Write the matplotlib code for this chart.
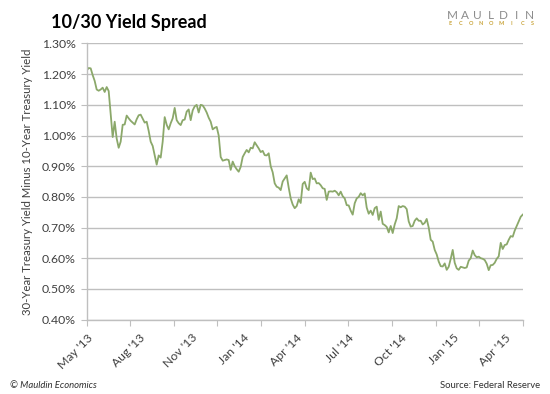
import matplotlib
matplotlib.use("Agg")
import matplotlib.pyplot as plt
import numpy as np

# 30y minus 10y treasury yield (%) at roughly equal steps,
# May 2013 through May 2015 (~500 trading days)
spread = [
    1.212, 1.220, 1.219, 1.197, 1.178, 1.150, 1.146, 1.150, 1.156, 1.142,
    1.158, 1.145, 1.070, 0.995, 1.045, 0.990, 0.960, 0.980, 1.035, 1.036,
    1.065, 1.056, 1.048, 1.042, 1.036, 1.053, 1.066, 1.068, 1.055, 1.042,
    1.045, 1.015, 0.980, 0.966, 0.935, 0.905, 0.935, 0.928, 0.980, 1.060,
    1.035, 1.020, 1.040, 1.056, 1.090, 1.050, 1.040, 1.034, 1.050, 1.052,
    1.078, 1.085, 1.050, 1.082, 1.095, 1.100, 1.075, 1.100, 1.098, 1.088,
    1.075, 1.058, 1.045, 1.020, 1.025, 1.028, 1.000, 0.930, 0.918, 0.920,
    0.922, 0.920, 0.888, 0.915, 0.900, 0.890, 0.882, 0.898, 0.930, 0.942,
    0.953, 0.945, 0.960, 0.958, 0.978, 0.968, 0.958, 0.946, 0.950, 0.936,
    0.935, 0.942, 0.900, 0.880, 0.844, 0.833, 0.830, 0.822, 0.850, 0.860,
    0.870, 0.830, 0.795, 0.775, 0.763, 0.770, 0.792, 0.780, 0.842, 0.849,
    0.828, 0.822, 0.879, 0.858, 0.860, 0.844, 0.845, 0.838, 0.828, 0.826,
    0.790, 0.817, 0.818, 0.817, 0.820, 0.815, 0.805, 0.817, 0.802, 0.795,
    0.773, 0.772, 0.755, 0.742, 0.779, 0.795, 0.800, 0.812, 0.805, 0.811,
    0.765, 0.745, 0.755, 0.741, 0.763, 0.768, 0.725, 0.752, 0.712, 0.708,
    0.702, 0.684, 0.705, 0.682, 0.710, 0.730, 0.770, 0.766, 0.770, 0.768,
    0.760, 0.720, 0.703, 0.705, 0.722, 0.730, 0.722, 0.722, 0.710, 0.715,
    0.728, 0.700, 0.660, 0.654, 0.627, 0.612, 0.589, 0.574, 0.573, 0.583,
    0.562, 0.572, 0.598, 0.627, 0.585, 0.567, 0.562, 0.572, 0.570, 0.568,
    0.570, 0.592, 0.600, 0.625, 0.610, 0.603, 0.605, 0.600, 0.598, 0.594,
    0.582, 0.561, 0.577, 0.578, 0.585, 0.598, 0.606, 0.650, 0.630, 0.643,
    0.645, 0.660, 0.672, 0.670, 0.690, 0.705, 0.720, 0.735, 0.742,
]

n_days = 500            # trading days spanned by the x axis
tick_every = 50         # unlabelled tick marks
label_every = 60        # labelled category positions
month_labels = ["May '13", "Aug '13", "Nov '13", "Jan '14", "Apr '14",
                "Jul '14", "Oct '14", "Jan '15", "Apr '15"]
yticks = [0.40, 0.50, 0.60, 0.70, 0.80, 0.90, 1.00, 1.10, 1.20, 1.30]

plt.rcParams["font.family"] = ["Lato", "DejaVu Sans"]
GRID = "#bfbfbf"
TXT = "#404040"
LINE = "#8ba86a"

fig = plt.figure(figsize=(5.5, 3.94), dpi=100)
ax = fig.add_axes([0.1576, 0.189, 0.7928, 0.7006])

x = np.linspace(0, n_days, len(spread))
ax.plot(x, spread, color=LINE, lw=1.3, solid_joinstyle="round")

ax.set_xlim(0, n_days)
ax.set_ylim(0.40, 1.30)
ax.set_yticks(yticks)
ax.set_yticklabels([f"{v:.2f}%" for v in yticks], color=TXT, fontsize=8.8)
ax.yaxis.grid(True, color=GRID, lw=1)
ax.set_axisbelow(True)

# unlabelled ticks every 50 days, labels every 60 days (Excel category axis)
ax.xaxis.remove_overlapping_locs = False
ax.set_xticks(np.arange(0, n_days + 1, tick_every))
ax.set_xticklabels([])
ax.set_xticks(np.arange(len(month_labels)) * label_every, minor=True)
ax.set_xticklabels(month_labels, minor=True, rotation=45, ha="right",
                   va="top", rotation_mode="anchor", color=TXT, fontsize=8.8)
ax.tick_params(axis="x", which="major", length=4, color=GRID, direction="out")
ax.tick_params(axis="x", which="minor", length=0, pad=9)
ax.tick_params(axis="y", length=4, color=GRID, pad=4)

for side in ("top", "right"):
    ax.spines[side].set_visible(False)
for side in ("left", "bottom"):
    ax.spines[side].set_color(GRID)
    ax.spines[side].set_linewidth(1)

ax.set_ylabel("30-Year Treasury Yield Minus 10-Year Treasury Yield",
              color=TXT, fontsize=8.2, labelpad=6)

fig.text(0.093, 0.93, "10/30 Yield Spread", fontsize=13, fontweight="bold",
         color="black", va="baseline")

# logo: widely spaced letters
for i, ch in enumerate("MAULDIN"):
    fig.text(np.linspace(0.822, 0.962, 7)[i], 0.951, ch, fontsize=8.5,
             color="#8c8c8c", ha="center", va="baseline")
for i, ch in enumerate("ECONOMICS"):
    fig.text(np.linspace(0.818, 0.968, 9)[i], 0.936, ch, fontsize=4,
             color="#c9a43a", ha="center", va="baseline", fontweight="bold")

fig.text(0.019, 0.016, "© Mauldin Economics", fontsize=6.8, style="italic",
         color="#303030")
fig.text(0.982, 0.016, "Source: Federal Reserve", fontsize=6.8, ha="right",
         color="#303030")

fig.savefig("out.png", dpi=100)
